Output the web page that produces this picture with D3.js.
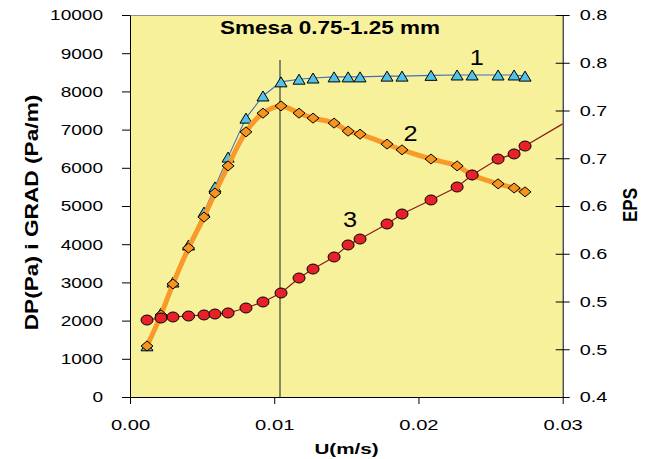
<!DOCTYPE html>
<html>
<head>
<meta charset="utf-8">
<script src="https://cdn.jsdelivr.net/npm/d3@7"></script>
<style>
  html, body { margin: 0; padding: 0; background: #ffffff; }
  svg { display: block; font-family: "Liberation Sans", Arial, sans-serif; }
</style>
</head>
<body>
<svg id="chart" width="649" height="459"></svg>
<script>
// ---------------- DATA ----------------
const velocity = [0.00118, 0.00215, 0.00298, 0.00406, 0.00513, 0.00589, 0.00680, 0.00804, 0.00922, 0.01047,
                  0.01172, 0.01269, 0.01415, 0.01512, 0.01595, 0.01782, 0.01886, 0.02087, 0.02268, 0.02372,
                  0.02552, 0.02663, 0.02739];
// series 1 (triangles, left axis)
const series1 = [1340, 2200, 3010, 3980, 4840, 5500, 6280, 7300, 7880, 8250,
                 8320, 8350, 8380, 8380, 8380, 8400, 8400, 8420, 8430, 8430,
                 8430, 8430, 8400];
// series 2 (diamonds, left axis)
const series2 = [1335, 2150, 2960, 3900, 4710, 5340, 6050, 6940, 7430, 7620,
                 7430, 7300, 7170, 6960, 6880, 6620, 6470, 6230, 6050, 5810,
                 5580, 5470, 5370];
// series 3 (circles, right axis EPS)
const series3 = [0.4806, 0.4827, 0.4838, 0.4848, 0.4859, 0.4869, 0.4880, 0.4932, 0.4995, 0.5089,
                 0.5246, 0.5340, 0.5466, 0.5592, 0.5654, 0.5812, 0.5916, 0.6063, 0.6199, 0.6325,
                 0.6492, 0.6545, 0.6628];
// the line of series 3 continues to the edge of the plot
const series3TailU = 0.0300;
const series3TailValue = 0.686;

// vertical reference line
const refLineU = 0.0104;
const refLineTop = 8820;

const leftTicks = [0, 1000, 2000, 3000, 4000, 5000, 6000, 7000, 8000, 9000, 10000];
const leftTickLabels = ["0", "1000", "2000", "3000", "4000", "5000", "6000", "7000", "8000", "9000", "10000"];
const rightTicks = [0.40, 0.45, 0.50, 0.55, 0.60, 0.65, 0.70, 0.75, 0.80];
const rightTickLabels = ["0.4", "0.5", "0.5", "0.6", "0.6", "0.7", "0.7", "0.8", "0.8"];
const bottomTicks = [0, 0.01, 0.02, 0.03];
const bottomTickLabels = ["0.00", "0.01", "0.02", "0.03"];

const titleText = "Smesa 0.75-1.25 mm";
const xTitle = "U(m/s)";
const yLeftTitle = "DP(Pa) i GRAD (Pa/m)";
const yRightTitle = "EPS";
const seriesLabels = ["1", "2", "3"];
// label anchor positions in data units (u, left-axis value)
const seriesLabelU = [0.02405, 0.01945, 0.01525];
const seriesLabelV = [8685, 6700, 4440];

// ---------------- LAYOUT ----------------
const svg = d3.select("#chart");
const X0 = 130, X1 = 562.7, Y0 = 15, Y1 = 397;

const x = d3.scaleLinear().domain([0, 0.03]).range([X0, X1]);
const yL = d3.scaleLinear().domain([0, 10000]).range([Y1, Y0]);
const yR = d3.scaleLinear().domain([0.4, 0.8]).range([Y1, Y0]);

function stretch(sel, f) {
  sel.each(function () {
    const n = this.getComputedTextLength();
    this.setAttribute("textLength", n * f);
    this.setAttribute("lengthAdjust", "spacingAndGlyphs");
  });
}

// plot background
svg.append("rect")
  .attr("x", X0).attr("y", Y0)
  .attr("width", X1 - X0).attr("height", Y1 - Y0)
  .attr("fill", "#F7F19B");

svg.append("defs").append("clipPath").attr("id", "plotclip")
  .append("rect").attr("x", X0).attr("y", Y0).attr("width", X1 - X0).attr("height", Y1 - Y0);

// top border
svg.append("line")
  .attr("x1", X0).attr("x2", X1).attr("y1", Y0 + 0.5).attr("y2", Y0 + 0.5)
  .attr("stroke", "#8f8f8f").attr("stroke-width", 1);

// ---------------- AXES ----------------
const axL = svg.append("g").attr("transform", `translate(${X0},0)`)
  .call(d3.axisLeft(yL).tickValues(leftTicks).tickFormat((d, i) => leftTickLabels[i])
    .tickSizeInner(8).tickSizeOuter(0).tickPadding(19));
axL.selectAll("path,line").attr("stroke", "#000");
axL.selectAll("text").attr("font-size", 15).attr("fill", "#000")
  .attr("font-family", "'Liberation Sans', Arial, sans-serif");
stretch(axL.selectAll("text"), 1.27);

const axB = svg.append("g").attr("transform", `translate(0,${Y1})`)
  .call(d3.axisBottom(x).tickValues(bottomTicks).tickFormat((d, i) => bottomTickLabels[i])
    .tickSizeInner(7).tickSizeOuter(0).tickPadding(15));
axB.selectAll("path,line").attr("stroke", "#000");
axB.selectAll("text").attr("font-size", 15.5).attr("fill", "#000")
  .attr("font-family", "'Liberation Sans', Arial, sans-serif");
stretch(axB.selectAll("text"), 1.3);

const axR = svg.append("g").attr("transform", `translate(${X1},0)`)
  .call(d3.axisRight(yR).tickValues(rightTicks).tickFormat((d, i) => rightTickLabels[i])
    .tickSizeInner(7).tickSizeOuter(0).tickPadding(10));
axR.selectAll("path,line").attr("stroke", "#000");
axR.selectAll(".tick line").attr("x1", -7);
axR.selectAll("text").attr("font-size", 15.5).attr("fill", "#000")
  .attr("font-family", "'Liberation Sans', Arial, sans-serif");
stretch(axR.selectAll("text"), 1.28);

// ---------------- REFERENCE LINE ----------------
svg.append("line")
  .attr("x1", x(refLineU)).attr("x2", x(refLineU))
  .attr("y1", yL(refLineTop)).attr("y2", Y1)
  .attr("stroke", "#5b6650").attr("stroke-width", 1.5);

// ---------------- SERIES ----------------
const plot = svg.append("g").attr("clip-path", "url(#plotclip)");

const triPath = "M0,-5L6,5L-6,5Z";
const diaPath = "M0,-5L6,0L0,5L-6,0Z";

// series 1
const pts1 = velocity.map((u, i) => [x(u), yL(series1[i])]);
plot.append("path").attr("d", d3.line()(pts1))
  .attr("fill", "none").attr("stroke", "#3f6fc2").attr("stroke-width", 1.1);
plot.selectAll(".m1").data(pts1).enter().append("path")
  .attr("transform", d => `translate(${d[0]},${d[1]})`)
  .attr("d", triPath).attr("fill", "#52C3E6").attr("stroke", "#000").attr("stroke-width", 1);

// series 2
const pts2 = velocity.map((u, i) => [x(u), yL(series2[i])]);
plot.append("path").attr("d", d3.line().curve(d3.curveCatmullRom.alpha(0.5))(pts2))
  .attr("fill", "none").attr("stroke", "#F99A28").attr("stroke-width", 5)
  .attr("stroke-linejoin", "round").attr("stroke-linecap", "round");
plot.selectAll(".m2").data(pts2).enter().append("path")
  .attr("transform", d => `translate(${d[0]},${d[1]})`)
  .attr("d", diaPath).attr("fill", "#F7941D").attr("stroke", "#000").attr("stroke-width", 1);

// series 3
const pts3 = velocity.map((u, i) => [x(u), yR(series3[i])]);
const line3 = pts3.concat([[x(series3TailU), yR(series3TailValue)]]);
plot.append("path").attr("d", d3.line()(line3))
  .attr("fill", "none").attr("stroke", "#8B1A1A").attr("stroke-width", 1.2);
plot.selectAll(".m3").data(pts3).enter().append("ellipse")
  .attr("cx", d => d[0]).attr("cy", d => d[1])
  .attr("rx", 6).attr("ry", 5)
  .attr("fill", "#E8202A").attr("stroke", "#000").attr("stroke-width", 1);

// ---------------- TEXTS ----------------
const t = svg.append("text").attr("x", 330).attr("y", 34)
  .attr("text-anchor", "middle").attr("font-weight", "bold").attr("font-size", 18.6)
  .attr("fill", "#000").text(titleText);
stretch(t, 1.21);

const xt = svg.append("text").attr("x", 346.5).attr("y", 454)
  .attr("text-anchor", "middle").attr("font-weight", "bold").attr("font-size", 15.5)
  .attr("fill", "#000").text(xTitle);
stretch(xt, 1.33);

const ylt = svg.append("text").attr("transform", "translate(38,212.5) rotate(-90)")
  .attr("text-anchor", "middle").attr("font-weight", "bold").attr("font-size", 18.6)
  .attr("fill", "#000").text(yLeftTitle);
stretch(ylt, 1.22);

const yrt = svg.append("text").attr("transform", "translate(637,205) rotate(-90)")
  .attr("text-anchor", "middle").attr("font-weight", "bold").attr("font-size", 20)
  .attr("fill", "#000").text(yRightTitle);
stretch(yrt, 0.85);

svg.selectAll(".slabel").data(seriesLabels).enter().append("text")
  .attr("class", "slabel")
  .attr("x", (d, i) => x(seriesLabelU[i]))
  .attr("y", (d, i) => yL(seriesLabelV[i]))
  .attr("text-anchor", "middle").attr("font-size", 22).attr("fill", "#000")
  .text(d => d)
  .each(function () { stretch(d3.select(this), 1.15); });
</script>
</body>
</html>
